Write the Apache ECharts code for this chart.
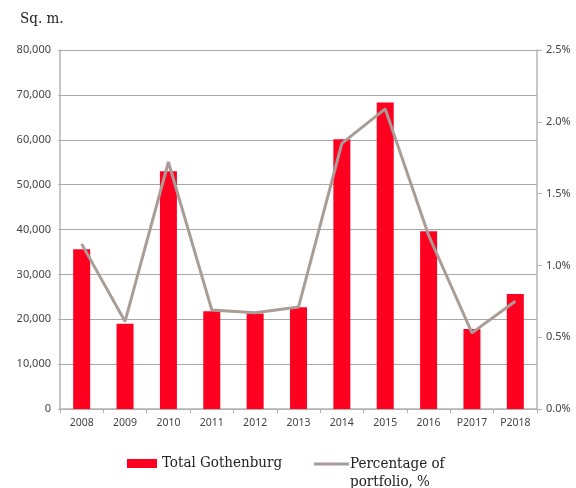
<!DOCTYPE html>
<html>
<head>
<meta charset="utf-8">
<script src="https://cdn.jsdelivr.net/npm/echarts@6/dist/echarts.min.js"></script>
<style>html,body{margin:0;padding:0;background:#fff}#c{width:576px;height:488px}</style>
</head>
<body>
<div id="c"></div>
<script>
var categories = ['2008','2009','2010','2011','2012','2013','2014','2015','2016','P2017','P2018'];
var areaValues = [35600, 19000, 53000, 21800, 21300, 22700, 60100, 68300, 39600, 17800, 25600];
var percentValues = [1.15, 0.61, 1.72, 0.69, 0.67, 0.71, 1.85, 2.09, 1.21, 0.53, 0.75];
var leftTicks = {min: 0, max: 80000, interval: 10000};
var rightTicks = {min: 0, max: 2.5, interval: 0.5};
var barName = 'Total Gothenburg';
var lineName = 'Percentage of\nportfolio, %';

var serif = '"DejaVu Serif Condensed", "DejaVu Serif", serif';
var sans = '"Noto Sans", sans-serif';
var chart = echarts.init(document.getElementById('c'), null, {renderer: 'canvas'});
chart.setOption({
  animation: false,
  backgroundColor: '#ffffff',
  title: {
    text: 'Sq. m.', left: 15, top: 7,
    textStyle: {fontFamily: serif, fontSize: 15, fontWeight: 'normal', color: '#222'}
  },
  grid: {left: 60, right: 39, top: 50, bottom: 79, containLabel: false},
  legend: [
    {data: [{name: barName, icon: 'rect'}], left: 122, top: 451, itemWidth: 30, itemHeight: 9,
     textStyle: {fontFamily: serif, fontSize: 15, color: '#222'}},
    {data: [{name: lineName, icon: 'rect'}], left: 309, top: 432, itemWidth: 35, itemHeight: 3,
     formatter: function (n) { return ' \n' + n; },
     textStyle: {fontFamily: serif, fontSize: 15, color: '#222', lineHeight: 18, padding: [0,0,0,-4]}}
  ],
  xAxis: {
    type: 'category', data: categories,
    axisLine: {lineStyle: {color: '#b4b4b4', width: 1.5}},
    axisTick: {show: true, length: 4, lineStyle: {color: '#b4b4b4'}},
    axisLabel: {fontFamily: sans, fontSize: 10.5, color: '#444', margin: 9}
  },
  yAxis: [
    {type: 'value', min: leftTicks.min, max: leftTicks.max, interval: leftTicks.interval,
     axisLine: {show: true, lineStyle: {color: '#b4b4b4', width: 1.5}},
     axisTick: {show: true, length: 2, lineStyle: {color: '#b4b4b4'}},
     splitLine: {show: true, lineStyle: {color: '#a8a8a8', width: 1}},
     axisLabel: {fontFamily: sans, fontSize: 11, color: '#444', margin: 9,
       formatter: function (v) { return v.toLocaleString('en-US'); }}},
    {type: 'value', min: rightTicks.min, max: rightTicks.max, interval: rightTicks.interval,
     position: 'right',
     axisLine: {show: true, lineStyle: {color: '#b4b4b4', width: 1.5}},
     axisTick: {show: true, length: 5, lineStyle: {color: '#b4b4b4'}},
     splitLine: {show: false},
     axisLabel: {fontFamily: sans, fontSize: 11, color: '#444', margin: 9,
       formatter: function (v) { return v.toFixed(1) + '%'; }}}
  ],
  series: [
    {name: barName, type: 'bar', data: areaValues, yAxisIndex: 0, barWidth: 17,
     itemStyle: {color: '#ff0020'}},
    {name: lineName, type: 'line', data: percentValues, yAxisIndex: 1,
     symbol: 'none', showSymbol: false,
     lineStyle: {color: '#a89e97', width: 3}, itemStyle: {color: '#a89e97'}}
  ]
});
</script>
</body>
</html>
